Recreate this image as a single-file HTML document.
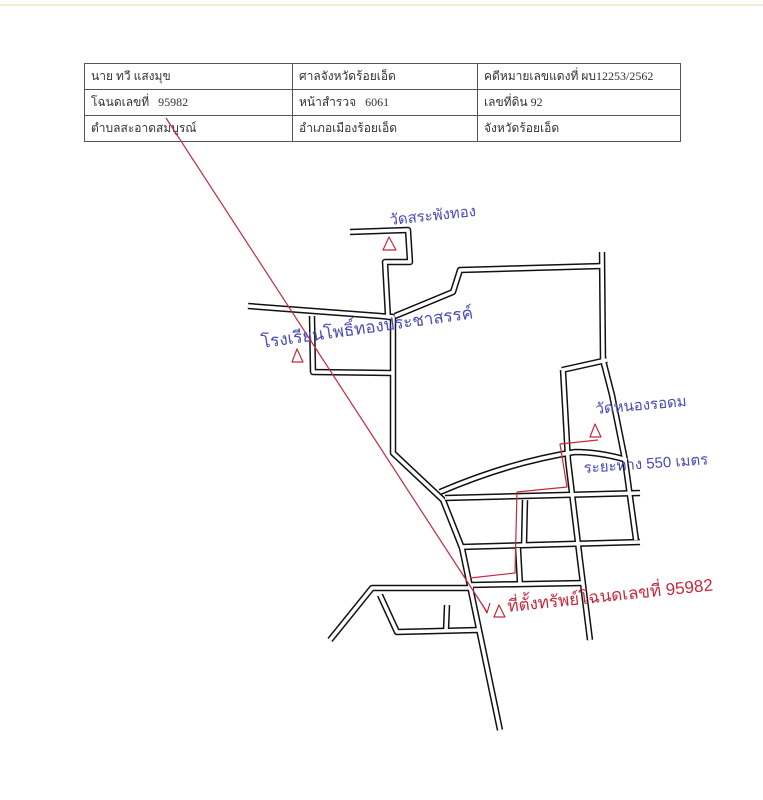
<!DOCTYPE html>
<html><head><meta charset="utf-8"><style>
body{margin:0;background:#fff;width:763px;height:800px;overflow:hidden;position:relative;font-family:"Liberation Serif","Noto Serif CJK SC",serif}
.top{position:absolute;left:0;top:4px;width:763px;height:2px;background:#f3ead2}
table{position:absolute;left:84px;top:63px;border-collapse:collapse;font-size:12px;color:#333}
td{border:1px solid #555;height:25px;padding:0 6px;font-family:"Liberation Serif","Noto Sans CJK SC",serif}
svg{position:absolute;left:0;top:0}
.t{font-family:"Liberation Sans","Noto Sans CJK SC",sans-serif;font-size:15px}
</style></head><body>
<div class="top"></div>
<table>
<tr><td style="width:195px">นาย ทวี แสงมุข</td><td style="width:172px">ศาลจังหวัดร้อยเอ็ด</td><td style="width:190px">คดีหมายเลขแดงที่ ผบ12253/2562</td></tr>
<tr><td>โฉนดเลขที่ &nbsp; 95982</td><td>หน้าสำรวจ &nbsp; 6061</td><td>เลขที่ดิน 92</td></tr>
<tr><td>ตำบลสะอาดสมบูรณ์</td><td>อำเภอเมืองร้อยเอ็ด</td><td>จังหวัดร้อยเอ็ด</td></tr>
</table>
<svg width="763" height="800">
<defs>
<g id="roads">
<path d="M350 232 L408 230 L410 262 L385 262 L388 317 L393 317 L393 453 L443 500 L462 548 L500 730"/>
<path d="M248 306 L300 310 L393 317"/>
<path d="M395 316 L453 292 L460 270 L602 266"/>
<path d="M602 252 L603 360 L612 395 L625 460 L636 540"/>
<path d="M312 316 L313 372 L392 373"/>
<path d="M562 370 L607 360"/>
<path d="M563 370 L568 460 L580 560 L590 640"/>
<path d="M440 492 Q510 462 575 452 Q600 452 627 460"/>
<path d="M445 498 L640 493"/>
<path d="M460 547 L640 542"/>
<path d="M525 500 L524 545"/>
<path d="M470 585 L583 583"/>
<path d="M518 548 L520 584"/>
<path d="M473 588 L372 588 L330 640"/>
<path d="M380 595 L397 632 L478 630"/>
<path d="M447 605 L446 630"/>
</g>
</defs>
<g fill="none" stroke-linejoin="round">
<use href="#roads" stroke="#111" stroke-width="6.5"/>
<use href="#roads" stroke="#fff" stroke-width="3.5"/>
<g stroke="#c8283c" stroke-width="1.2">
<path d="M166 118 L487 612"/>
<path d="M598 440 L560 444 L567 487 L517 492 L515 573 L470 578"/>
<path d="M482 604 L487 613 L490 603"/>
<path d="M383 250 L389 237 L396 250 Z"/>
<path d="M292 362 L297 349 L303 362 Z"/>
<path d="M590 437 L595 424 L601 437 Z"/>
<path d="M494 617 L499 605 L505 617 Z"/>
</g>
</g>
<text class="t" x="390" y="225" fill="#4a4ab8" transform="rotate(-6 390 225)">วัดสระพังทอง</text>
<text class="t" x="262" y="348" fill="#4a4ab8" transform="rotate(-8 262 348)" style="font-size:17px">โรงเรียนโพธิ์ทองประชาสรรค์</text>
<text class="t" x="596" y="414" fill="#4a4ab8" transform="rotate(-5 596 414)">วัดหนองรอดม</text>
<text class="t" x="584" y="473" fill="#4a4ab8" transform="rotate(-4 584 473)">ระยะทาง 550 เมตร</text>
<text class="t" x="508" y="612" fill="#c8283c" transform="rotate(-6 508 612)" style="font-size:17px">ที่ตั้งทรัพย์โฉนดเลขที่ 95982</text>
</svg>
</body></html>
